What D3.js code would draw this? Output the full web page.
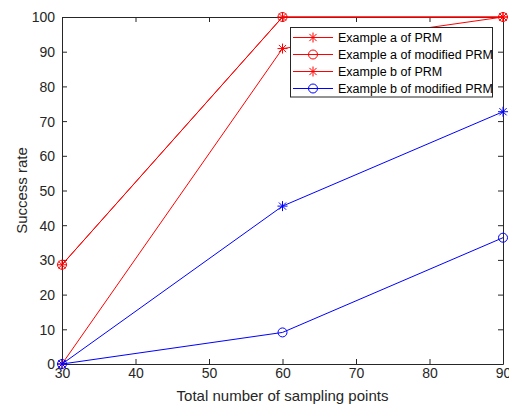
<!DOCTYPE html>
<html>
<head>
<meta charset="utf-8">
<script src="https://cdn.jsdelivr.net/npm/d3@7"></script>
<style>
  html, body { margin: 0; padding: 0; background: #fff; }
  svg { display: block; font-family: "Liberation Sans", Arial, Helvetica, sans-serif; }
</style>
</head>
<body>
<svg id="chart" width="509" height="407"></svg>
<script>
// ---- data ----
const xValues = [30, 60, 90];
const seriesNames = ["Example a of PRM", "Example a of modified PRM", "Example b of PRM", "Example b of modified PRM", ""];
const seriesColors = ["#ff0000", "#ff0000", "#ff0000", "#0000ff", "#0000ff"];
const seriesMarkers = ["star", "circle", "star", "circle", "star"];
const seriesA_PRM = [0, 90.9, 100];
const seriesA_mod = [28.6, 100, 100];
const seriesB_PRM_red = [28.6, 100, 100];
const seriesB_mod = [0, 9.1, 36.4];
const seriesB_PRM_blue = [0, 45.5, 72.7];
const seriesValues = [seriesA_PRM, seriesA_mod, seriesB_PRM_red, seriesB_mod, seriesB_PRM_blue];
const xTicks = [30, 40, 50, 60, 70, 80, 90];
const yTicks = [0, 10, 20, 30, 40, 50, 60, 70, 80, 90, 100];
const xLabel = "Total number of sampling points";
const yLabel = "Success rate";

// ---- layout ----
const svg = d3.select("#chart");
const L = 62, R = 503, T = 17, B = 364;
const x = d3.scaleLinear().domain([30, 90]).range([L, R]);
const y = d3.scaleLinear().domain([0, 100]).range([B, T]);
const axisColor = "#262626";
const tickLen = 5;

const g = svg.append("g");
g.append("rect").attr("x", L).attr("y", T).attr("width", R - L).attr("height", B - T)
  .attr("fill", "#fff").attr("stroke", "none");

// bottom axis
const xAxis = d3.axisBottom(x).tickValues(xTicks).tickSizeInner(-tickLen).tickSizeOuter(0).tickPadding(4);
const gx = g.append("g").attr("transform", `translate(0,${B})`).call(xAxis);
// top ticks
const gxt = g.append("g").attr("transform", `translate(0,${T})`)
  .call(d3.axisTop(x).tickValues(xTicks).tickSizeInner(-tickLen).tickSizeOuter(0).tickFormat(""));
// left axis
const yAxis = d3.axisLeft(y).tickValues(yTicks).tickSizeInner(-tickLen).tickSizeOuter(0).tickPadding(7);
const gy = g.append("g").attr("transform", `translate(${L},0)`).call(yAxis);
// right ticks
const gyr = g.append("g").attr("transform", `translate(${R},0)`)
  .call(d3.axisRight(y).tickValues(yTicks).tickSizeInner(-tickLen).tickSizeOuter(0).tickFormat(""));

[gx, gxt, gy, gyr].forEach(a => {
  a.selectAll("path.domain").attr("stroke", axisColor).attr("stroke-width", 1);
  a.selectAll(".tick line").attr("stroke", axisColor).attr("stroke-width", 1);
  a.selectAll("text").attr("fill", axisColor).style("font-size", "14px")
    .style("font-family", "'Liberation Sans', Arial, Helvetica, sans-serif");
});
gx.selectAll("text").attr("dy", "0.71em");
gy.selectAll("text").attr("dy", "0.35em");

// axis labels
svg.append("text").attr("x", (L + R) / 2).attr("y", 401).attr("text-anchor", "middle")
  .attr("fill", axisColor).style("font-size", "15px").text(xLabel);
svg.append("text").attr("transform", `translate(27,${(T + B) / 2}) rotate(-90)`)
  .attr("text-anchor", "middle").attr("fill", axisColor).style("font-size", "15px").text(yLabel);

// ---- series ----
function drawMarker(sel, type, cx, cy, color) {
  if (type === "circle") {
    sel.append("circle").attr("cx", cx).attr("cy", cy).attr("r", 4.5)
      .attr("fill", "none").attr("stroke", color).attr("stroke-width", 1);
  } else {
    const s = 5, d = 3.6;
    const p = `M${cx - s},${cy}L${cx + s},${cy}M${cx},${cy - s}L${cx},${cy + s}` +
      `M${cx - d},${cy - d}L${cx + d},${cy + d}M${cx - d},${cy + d}L${cx + d},${cy - d}`;
    sel.append("path").attr("d", p).attr("stroke", color).attr("stroke-width", 1).attr("fill", "none");
  }
}

const line = d3.line().x((d, i) => x(xValues[i])).y(d => y(d));
const plot = svg.append("g");
seriesValues.forEach((vals, si) => {
  const sg = plot.append("g");
  sg.append("path").datum(vals).attr("d", line).attr("fill", "none")
    .attr("stroke", seriesColors[si]).attr("stroke-width", 1);
  vals.forEach((v, i) => drawMarker(sg, seriesMarkers[si], x(xValues[i]), y(v), seriesColors[si]));
});

// ---- legend ----
const legendEntries = [
  { name: seriesNames[0], color: "#ff0000", marker: "star" },
  { name: seriesNames[1], color: "#ff0000", marker: "circle" },
  { name: seriesNames[2], color: "#ff0000", marker: "star" },
  { name: seriesNames[3], color: "#0000ff", marker: "circle" }
];
const lg = svg.append("g");
lg.append("rect").attr("x", 290.5).attr("y", 27.5).attr("width", 202).attr("height", 69.5)
  .attr("fill", "#fff").attr("stroke", axisColor).attr("stroke-width", 1);
const rowY = [37.5, 54.5, 71.5, 88.5];
legendEntries.forEach((e, i) => {
  const yy = rowY[i];
  lg.append("line").attr("x1", 293).attr("x2", 333).attr("y1", yy).attr("y2", yy)
    .attr("stroke", e.color).attr("stroke-width", 1);
  drawMarker(lg, e.marker, 313, yy, e.color);
  lg.append("text").attr("x", 338).attr("y", yy).attr("dy", "0.35em")
    .attr("fill", "#000").style("font-size", "12.5px").text(e.name);
});
</script>
</body>
</html>
